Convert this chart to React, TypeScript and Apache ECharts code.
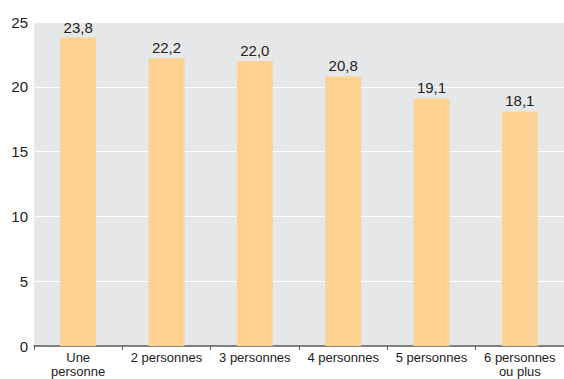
import React, { useEffect, useRef } from "react";
import * as echarts from "echarts";

const categories = ["Une\npersonne", "2 personnes", "3 personnes", "4 personnes", "5 personnes", "6 personnes\nou plus"];
const values = [23.8, 22.2, 22.0, 20.8, 19.1, 18.1];
const yTicks = { min: 0, max: 25, interval: 5 };

const FONT = "'Liberation Sans', Arial, Helvetica, sans-serif";

export default function App() {
  const ref = useRef<HTMLDivElement>(null);

  useEffect(() => {
    if (!ref.current) return;
    const chart = echarts.init(ref.current, null, { renderer: "svg" });
    chart.setOption({
      animation: false,
      textStyle: { fontFamily: FONT },
      grid: {
        left: 34,
        right: 0,
        top: 22,
        bottom: 32,
        show: true,
        backgroundColor: "#E6E7E9",
        borderWidth: 0,
      },
      xAxis: {
        type: "category",
        data: categories,
        boundaryGap: true,
        axisLine: { show: true, lineStyle: { color: "#5a5a5a", width: 1.5 } },
        axisTick: { show: true, alignWithLabel: false, length: 4, lineStyle: { color: "#5a5a5a" } },
        axisLabel: {
          color: "#222",
          fontSize: 13,
          lineHeight: 14.5,
          margin: 4,
          interval: 0,
          fontFamily: FONT,
        },
      },
      yAxis: {
        type: "value",
        min: yTicks.min,
        max: yTicks.max,
        interval: yTicks.interval,
        axisLine: { show: false },
        axisTick: { show: false },
        splitLine: { show: true, lineStyle: { color: "#ffffff", width: 1 } },
        axisLabel: { color: "#222", fontSize: 15, margin: 6, fontFamily: FONT },
      },
      series: [
        {
          type: "bar",
          data: values,
          barWidth: 36,
          itemStyle: { color: "#FDD293" },
          label: {
            show: true,
            position: "top",
            distance: 3,
            color: "#222",
            fontSize: 15,
            fontFamily: FONT,
            formatter: (p: any) => Number(p.value).toFixed(1).replace(".", ","),
          },
        },
      ],
    });
    return () => chart.dispose();
  }, []);

  return (
    <div
      ref={ref}
      style={{ position: "absolute", left: 0, top: 0, width: 564, height: 379 }}
    />
  );
}
